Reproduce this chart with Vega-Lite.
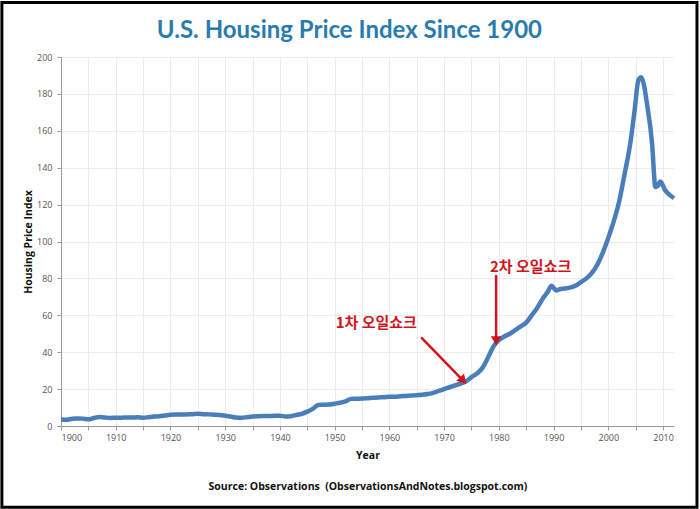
{
  "$schema": "https://vega.github.io/schema/vega-lite/v6.json",
  "width": 613,
  "height": 369,
  "padding": 0,
  "background": "white",
  "title": {
    "text": "U.S. Housing Price Index Since 1900",
    "font": "Lato",
    "fontSize": 24,
    "fontWeight": "bold",
    "color": "#2a7bae",
    "anchor": "middle",
    "frame": "bounds",
    "offset": -42
  },
  "config": {
    "view": {"stroke": null},
    "axis": {
      "labelFont": "Open Sans",
      "labelFontSize": 9,
      "labelColor": "#555555",
      "titleFont": "Open Sans",
      "titleFontWeight": "bold",
      "titleColor": "#111111",
      "domainColor": "#9a9a9a",
      "tickColor": "#9a9a9a",
      "gridColor": "#ececec",
      "tickSize": 4
    },
    "axisX": {
      "values": [1900, 1910, 1920, 1930, 1940, 1950, 1960, 1970, 1980, 1990, 2000, 2010],
      "format": "d",
      "titleFontSize": 10.5,
      "titleLineHeight": 31,
      "titlePadding": 8,
      "labelPadding": 3
    },
    "axisY": {
      "values": [0, 20, 40, 60, 80, 100, 120, 140, 160, 180, 200],
      "labelOverlap": false,
      "titleFontSize": 10.5,
      "titlePadding": 3,
      "labelPadding": 5
    }
  },
  "datasets": {
    "hpi": [
      {"Year": 1900, "Index": 3.5}, {"Year": 1901, "Index": 3.4}, {"Year": 1902, "Index": 3.9}, {"Year": 1903, "Index": 4.1},
      {"Year": 1904, "Index": 4.0}, {"Year": 1905, "Index": 3.6}, {"Year": 1906, "Index": 4.3}, {"Year": 1907, "Index": 4.9},
      {"Year": 1908, "Index": 4.6}, {"Year": 1909, "Index": 4.4}, {"Year": 1910, "Index": 4.5}, {"Year": 1911, "Index": 4.5},
      {"Year": 1912, "Index": 4.6}, {"Year": 1913, "Index": 4.6}, {"Year": 1914, "Index": 4.7}, {"Year": 1915, "Index": 4.5},
      {"Year": 1916, "Index": 4.8}, {"Year": 1917, "Index": 5.1}, {"Year": 1918, "Index": 5.3}, {"Year": 1919, "Index": 5.7},
      {"Year": 1920, "Index": 6.1}, {"Year": 1921, "Index": 6.2}, {"Year": 1922, "Index": 6.2}, {"Year": 1923, "Index": 6.3},
      {"Year": 1924, "Index": 6.4}, {"Year": 1925, "Index": 6.6}, {"Year": 1926, "Index": 6.4}, {"Year": 1927, "Index": 6.3},
      {"Year": 1928, "Index": 6.1}, {"Year": 1929, "Index": 6.0}, {"Year": 1930, "Index": 5.6}, {"Year": 1931, "Index": 5.1},
      {"Year": 1932, "Index": 4.6}, {"Year": 1933, "Index": 4.5}, {"Year": 1934, "Index": 4.8}, {"Year": 1935, "Index": 5.1},
      {"Year": 1936, "Index": 5.3}, {"Year": 1937, "Index": 5.4}, {"Year": 1938, "Index": 5.4}, {"Year": 1939, "Index": 5.5},
      {"Year": 1940, "Index": 5.5}, {"Year": 1941, "Index": 5.2}, {"Year": 1942, "Index": 5.3}, {"Year": 1943, "Index": 6.0},
      {"Year": 1944, "Index": 6.6}, {"Year": 1945, "Index": 7.8}, {"Year": 1946, "Index": 9.3}, {"Year": 1947, "Index": 11.4},
      {"Year": 1948, "Index": 11.5}, {"Year": 1949, "Index": 11.6}, {"Year": 1950, "Index": 12.1}, {"Year": 1951, "Index": 12.6},
      {"Year": 1952, "Index": 13.3}, {"Year": 1953, "Index": 14.7}, {"Year": 1954, "Index": 14.8}, {"Year": 1955, "Index": 14.9},
      {"Year": 1956, "Index": 15.1}, {"Year": 1957, "Index": 15.3}, {"Year": 1958, "Index": 15.5}, {"Year": 1959, "Index": 15.6},
      {"Year": 1960, "Index": 15.8}, {"Year": 1961, "Index": 15.9}, {"Year": 1962, "Index": 16.1}, {"Year": 1963, "Index": 16.3},
      {"Year": 1964, "Index": 16.5}, {"Year": 1965, "Index": 16.7}, {"Year": 1966, "Index": 16.9}, {"Year": 1967, "Index": 17.3},
      {"Year": 1968, "Index": 18.0}, {"Year": 1969, "Index": 19.0}, {"Year": 1970, "Index": 20.0}, {"Year": 1971, "Index": 21.0},
      {"Year": 1972, "Index": 22.0}, {"Year": 1973, "Index": 23.0}, {"Year": 1974, "Index": 24.2}, {"Year": 1975, "Index": 26.5},
      {"Year": 1976, "Index": 28.5}, {"Year": 1977, "Index": 31.5}, {"Year": 1978, "Index": 37.0}, {"Year": 1979, "Index": 43.0},
      {"Year": 1980, "Index": 46.5}, {"Year": 1981, "Index": 48.5}, {"Year": 1982, "Index": 50.0}, {"Year": 1983, "Index": 52.0},
      {"Year": 1984, "Index": 54.0}, {"Year": 1985, "Index": 56.0}, {"Year": 1986, "Index": 60.0}, {"Year": 1987, "Index": 64.0},
      {"Year": 1988, "Index": 69.0}, {"Year": 1989, "Index": 73.0}, {"Year": 1989.6, "Index": 76.0}, {"Year": 1990.5, "Index": 73.5},
      {"Year": 1991, "Index": 74.0}, {"Year": 1992, "Index": 74.5}, {"Year": 1993, "Index": 75.0}, {"Year": 1994, "Index": 76.0},
      {"Year": 1995, "Index": 78.0}, {"Year": 1996, "Index": 80.0}, {"Year": 1997, "Index": 83.0}, {"Year": 1998, "Index": 87.5},
      {"Year": 1999, "Index": 94.0}, {"Year": 2000, "Index": 102.0}, {"Year": 2001, "Index": 111.0}, {"Year": 2002, "Index": 122.0},
      {"Year": 2003, "Index": 137.0}, {"Year": 2004, "Index": 153.0}, {"Year": 2004.8, "Index": 171.0}, {"Year": 2005.5, "Index": 187.5},
      {"Year": 2006, "Index": 189.0}, {"Year": 2006.5, "Index": 185.0}, {"Year": 2007, "Index": 176.0}, {"Year": 2008, "Index": 153.0},
      {"Year": 2008.6, "Index": 129.5}, {"Year": 2009, "Index": 130.0}, {"Year": 2009.5, "Index": 132.5}, {"Year": 2010.4, "Index": 127.7},
      {"Year": 2011.3, "Index": 125.0}, {"Year": 2012, "Index": 123.5}
    ],
    "labels": [
      {"Year": 1957.6, "Index": 55.8, "label": "1차 오일쇼크"},
      {"Year": 1985.8, "Index": 86.3, "label": "2차 오일쇼크"}
    ],
    "arrows": [
      {"Year": 1965.8, "Index": 48.1, "Year2": 1973.3, "Index2": 25.2, "angle": 137},
      {"Year": 1979.5, "Index": 81.8, "Year2": 1979.5, "Index2": 47.0, "angle": 180}
    ],
    "frame": [
      {"Year": 1889.2, "Year2": 2016.2, "Index": 229.6, "Index2": -44}
    ]
  },
  "layer": [
    {
      "data": {"name": "hpi"},
      "mark": {"type": "line", "color": "#4a7ebb", "strokeWidth": 4.5, "interpolate": "monotone"},
      "encoding": {
        "x": {
          "field": "Year", "type": "quantitative",
          "scale": {"domain": [1900, 2012], "nice": false, "zero": false},
          "axis": {"title": ["Year", "Source: Observations\u00a0\u00a0(ObservationsAndNotes.blogspot.com)"]}
        },
        "y": {
          "field": "Index", "type": "quantitative",
          "scale": {"domain": [0, 200], "nice": false},
          "axis": {"title": "Housing Price Index"}
        }
      }
    },
    {
      "data": {"name": "frame"},
      "mark": {"type": "rect", "fill": null, "stroke": "#000000", "strokeWidth": 3, "clip": false},
      "encoding": {
        "x": {"field": "Year", "type": "quantitative", "axis": {"title": ["Year", "Source: Observations\u00a0\u00a0(ObservationsAndNotes.blogspot.com)"]}},
        "x2": {"field": "Year2"},
        "y": {"field": "Index", "type": "quantitative", "axis": {"title": "Housing Price Index"}},
        "y2": {"field": "Index2"}
      }
    },
    {
      "data": {"name": "arrows"},
      "mark": {"type": "rule", "color": "#d0141c", "strokeWidth": 2.5},
      "encoding": {
        "x": {"field": "Year", "type": "quantitative", "axis": {"title": ["Year", "Source: Observations\u00a0\u00a0(ObservationsAndNotes.blogspot.com)"]}},
        "y": {"field": "Index", "type": "quantitative", "axis": {"title": "Housing Price Index"}},
        "x2": {"field": "Year2"},
        "y2": {"field": "Index2"}
      }
    },
    {
      "data": {"name": "arrows"},
      "mark": {"type": "point", "shape": "triangle", "filled": true, "color": "#d0141c", "size": 110, "opacity": 1},
      "encoding": {
        "x": {"field": "Year2", "type": "quantitative", "axis": {"title": ["Year", "Source: Observations\u00a0\u00a0(ObservationsAndNotes.blogspot.com)"]}},
        "y": {"field": "Index2", "type": "quantitative", "axis": {"title": "Housing Price Index"}},
        "angle": {"field": "angle", "type": "quantitative", "scale": null}
      }
    },
    {
      "data": {"name": "labels"},
      "mark": {"type": "text", "font": "Noto Sans CJK KR", "fontSize": 15, "fontWeight": "bold", "color": "#d0141c"},
      "encoding": {
        "x": {"field": "Year", "type": "quantitative", "axis": {"title": ["Year", "Source: Observations\u00a0\u00a0(ObservationsAndNotes.blogspot.com)"]}},
        "y": {"field": "Index", "type": "quantitative", "axis": {"title": "Housing Price Index"}},
        "text": {"field": "label"}
      }
    }
  ]
}
